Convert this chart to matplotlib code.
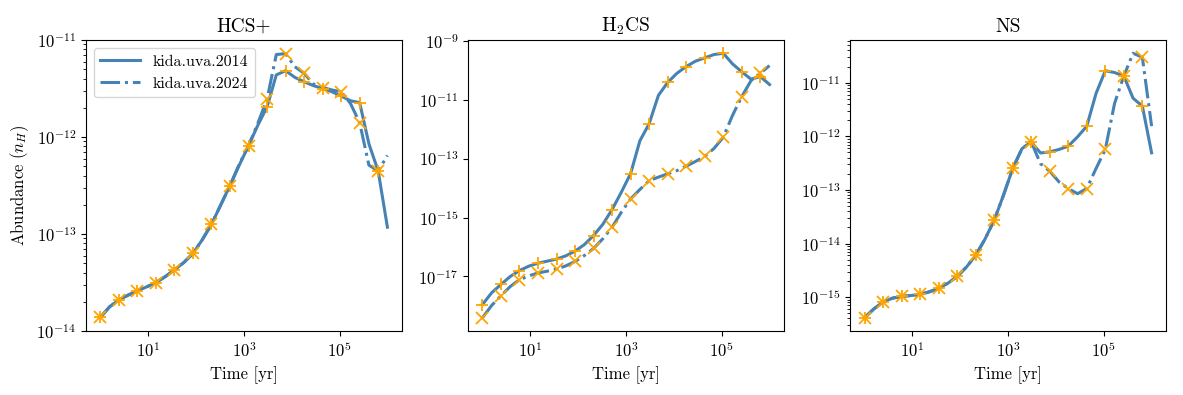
"""
Abundance evolution of HCS+, H2CS and NS for two KIDA networks.
"""

import numpy as np
import matplotlib
matplotlib.use("Agg")
import matplotlib.pyplot as plt

plt.rcParams["font.family"] = "serif"
plt.rcParams["font.serif"] = ["cmr10"]
plt.rcParams["mathtext.fontset"] = "cm"
plt.rcParams["axes.formatter.use_mathtext"] = True
plt.rcParams["axes.unicode_minus"] = False

# simulation time grid [yr], 32 log-spaced steps from 1 to 1e6
time = np.logspace(0, 6, 32)

species = ["HCS+", "H$_2$CS", "NS"]

# log10 abundances
hcsp_2014 = [-13.86, -13.75, -13.68, -13.63, -13.585, -13.545, -13.50, -13.44,
             -13.37, -13.295, -13.20, -13.06, -12.90, -12.70, -12.50, -12.29,
             -12.09, -11.88, -11.69, -11.36, -11.316, -11.385, -11.43, -11.47,
             -11.50, -11.533, -11.577, -11.626, -11.646, -12.07, -12.35, -12.93]
hcsp_2024 = [-13.86, -13.75, -13.68, -13.63, -13.585, -13.545, -13.50, -13.44,
             -13.37, -13.295, -13.20, -13.06, -12.90, -12.70, -12.50, -12.28,
             -12.09, -11.86, -11.61, -11.15, -11.14, -11.275, -11.343, -11.454,
             -11.49, -11.515, -11.533, -11.653, -11.852, -12.29, -12.35, -12.19]

h2cs_2014 = [-17.95, -17.55, -17.27, -17.00, -16.80, -16.65, -16.55, -16.48,
             -16.41, -16.30, -16.14, -15.92, -15.61, -15.23, -14.73, -14.14,
             -13.51, -12.40, -11.82, -10.86, -10.42, -10.11, -9.88, -9.70,
             -9.587, -9.475, -9.43, -9.79, -10.06, -10.31, -10.22, -10.49]
h2cs_2024 = [-18.40, -17.98, -17.655, -17.34, -17.11, -16.98, -16.88, -16.82,
             -16.75, -16.64, -16.49, -16.29, -16.05, -15.72, -15.33, -14.82,
             -14.37, -14.05, -13.75, -13.63, -13.52, -13.41, -13.26, -13.10,
             -12.93, -12.66, -12.28, -11.54, -10.90, -10.36, -10.11, -9.85]

ns_2014 = [-15.385, -15.22, -15.093, -15.02, -14.987, -14.97, -14.95, -14.90,
           -14.837, -14.74, -14.614, -14.44, -14.22, -13.92, -13.566, -13.10,
           -12.60, -12.23, -12.103, -12.31, -12.29, -12.245, -12.183, -12.01,
           -11.81, -11.20, -10.776, -10.81, -10.875, -11.29, -11.435, -12.308]
ns_2024 = [-15.385, -15.22, -15.093, -15.02, -14.987, -14.97, -14.95, -14.90,
           -14.837, -14.74, -14.614, -14.44, -14.22, -13.92, -13.566, -13.10,
           -12.60, -12.23, -12.103, -12.51, -12.65, -12.85, -12.974, -13.07,
           -12.974, -12.60, -12.245, -11.385, -10.875, -10.45, -10.527, -11.81]

data_2014 = [hcsp_2014, h2cs_2014, ns_2014]
data_2024 = [hcsp_2024, h2cs_2024, ns_2024]

fig, axes = plt.subplots(1, 3, figsize=(11.83, 3.95), dpi=100)
fig.subplots_adjust(left=0.0727, right=0.9856, bottom=0.162, top=0.8987,
                    wspace=0.21)

for ax, name, y14, y24 in zip(axes, species, data_2014, data_2024):
    y14 = 10 ** np.array(y14)
    y24 = 10 ** np.array(y24)
    ax.plot(time, y14, color="steelblue", lw=2.2, label="kida.uva.2014")
    ax.plot(time, y24, color="steelblue", lw=2.2, ls="-.",
            label="kida.uva.2024")
    ax.plot(time[::2], y14[::2], "+", color="orange", ms=9, mew=1.3)
    ax.plot(time[::2], y24[::2], "x", color="orange", ms=8, mew=1.3)
    ax.set_xscale("log")
    ax.set_yscale("log")
    ax.set_title(name, fontsize=14)
    ax.set_xlabel("Time [yr]", fontsize=12)
    ax.tick_params(labelsize=12)

axes[0].set_ylim(1e-14, 1e-11)
axes[0].set_ylabel("Abundance ($n_H$)", fontsize=12)
axes[0].legend(loc="upper left", fontsize=11.5, handlelength=2.5)

plt.savefig("out.png", dpi=100)
plt.close()
